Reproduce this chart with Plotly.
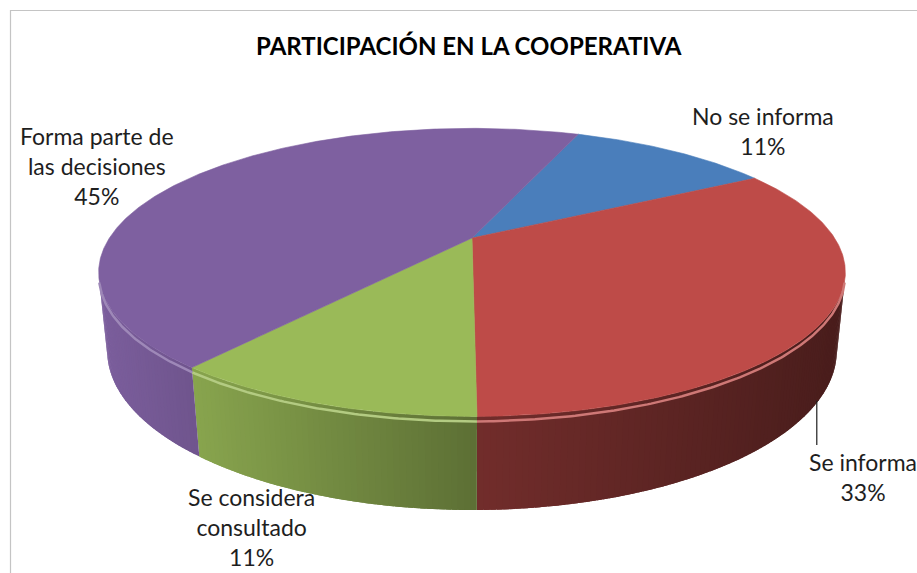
import math
import plotly.graph_objects as go

# ---- data -------------------------------------------------------------
categories = ["No se informa", "Se informa", "Se considera consultado",
              "Forma parte de las decisiones"]
label_lines = ["No se informa", "Se informa", "Se considera<br>consultado",
               "Forma parte de<br>las decisiones"]
percent = [11, 33, 11, 45]
title_text = "PARTICIPACIÓN EN LA COOPERATIVA"

# ---- style ------------------------------------------------------------
top_colors = ["#4a7ebb", "#be4b48", "#9aba58", "#7e60a0"]
FONT = "Lato, 'Open Sans', sans-serif"
W, H = 917, 573

# 3-D pie camera / geometry (radius = 1 unit)
CX, CY = 472.0, 238.0        # projected centre of the top face (px)
ELEV = math.radians(22.0)    # viewing elevation
DIST = 3.886                 # camera distance
FOCAL = 1409.0               # px per unit at the camera plane
THICK = 0.23                 # pie height
FIRST_ANGLE = 21.0           # clockwise from 12 o'clock

# label anchor points (px)
label_pos = [(763, 131), (863, 477), (251, 527), (97, 166)]

sE, cE = math.sin(ELEV), math.cos(ELEV)


def project(theta_deg, height):
    t = math.radians(theta_deg)
    x, z = math.sin(t), math.cos(t)
    X = x
    Y = height * cE + z * sE
    Z = -height * sE + z * cE
    k = FOCAL / (DIST + Z)
    return CX + X * k, CY - Y * k


def hex_rgb(h):
    h = h.lstrip("#")
    return tuple(int(h[i:i + 2], 16) for i in (0, 2, 4))


def shade(h, f):
    r, g, b = hex_rgb(h)
    return "rgb(%d,%d,%d)" % tuple(max(0, min(255, round(v * f))) for v in (r, g, b))


def tint(h, amt):
    r, g, b = hex_rgb(h)
    return "rgb(%d,%d,%d)" % tuple(round(v + (255 - v) * amt) for v in (r, g, b))


# slice angle ranges
total = sum(percent)
bounds = []
a = FIRST_ANGLE
for p in percent:
    span = 360.0 * p / total
    bounds.append((a, a + span))
    a += span

# visible part of the cylinder wall
vis = math.degrees(math.acos(-1.0 / (DIST * cE)))
vis_lo, vis_hi = vis, 360.0 - vis
half_w = FOCAL / math.sqrt(DIST ** 2 - cE ** 2)

fig = go.Figure()


def side_ranges(a0, a1):
    out = []
    for off in (0.0, 360.0):
        lo, hi = max(a0, vis_lo + off), min(a1, vis_hi + off)
        if hi > lo:
            out.append((lo, hi))
    return out


# curved walls, drawn as thin lit strips that overlap a little
STEP = 0.8
for i, (a0, a1) in enumerate(bounds):
    for lo, hi in side_ranges(a0, a1):
        n = max(1, int(math.ceil((hi - lo) / STEP)))
        d = (hi - lo) / n
        for j in range(n):
            ta = lo + d * j
            tb = min(hi, ta + d * 1.9)
            pts = [project(ta + (tb - ta) * k / 3, 0) for k in range(4)]
            pts += [project(tb - (tb - ta) * k / 3, -THICK) for k in range(4)]
            cxm = sum(p[0] for p in pts) / len(pts)
            u = (cxm - CX) / half_w
            f = 0.6 - 0.38 * u if u < 0 else 0.6 - 0.22 * u
            col = shade(top_colors[i], f)
            fig.add_trace(go.Scatter(
                x=[p[0] for p in pts] + [pts[0][0]],
                y=[p[1] for p in pts] + [pts[0][1]],
                mode="lines", fill="toself", fillcolor=col,
                line=dict(width=0), hoverinfo="skip", showlegend=False))

# top faces
for i, (a0, a1) in enumerate(bounds):
    n = max(2, int((a1 - a0) / 0.5))
    xs, ys = [CX], [CY]
    for j in range(n + 1):
        px, py = project(a0 + (a1 - a0) * j / n, 0)
        xs.append(px)
        ys.append(py)
    xs.append(CX)
    ys.append(CY)
    fig.add_trace(go.Scatter(
        x=xs, y=ys, mode="lines", fill="toself", fillcolor=top_colors[i],
        line=dict(color=top_colors[i], width=0.6),
        hoverinfo="skip", showlegend=False, name=categories[i]))

# bevel highlight along the front rim
for i, (a0, a1) in enumerate(bounds):
    for lo, hi in side_ranges(a0, a1):
        n = max(2, int((hi - lo) / 0.5))
        pts = [project(lo + (hi - lo) * j / n, -0.012) for j in range(n + 1)]
        fig.add_trace(go.Scatter(
            x=[p[0] for p in pts], y=[p[1] for p in pts], mode="lines",
            line=dict(color=tint(top_colors[i], 0.25), width=2.5),
            hoverinfo="skip", showlegend=False))

# data labels
annotations = [dict(
    x=469, y=45, xref="x", yref="y", text="<b>%s</b>" % title_text,
    showarrow=False, font=dict(family=FONT, size=24, color="#000000"),
    xanchor="center", yanchor="middle")]
for i in range(len(categories)):
    lx, ly = label_pos[i]
    annotations.append(dict(
        x=lx, y=ly, xref="x", yref="y",
        text="%s<br>%d%%" % (label_lines[i], percent[i]),
        showarrow=False, align="center",
        font=dict(family=FONT, size=23, color="#1e1e1e"),
        xanchor="center", yanchor="middle"))

# leader line for the label placed below the rim
mid_red = sum(bounds[1]) / 2
lx0, ly0 = project(mid_red, -THICK)
shapes = [
    dict(type="line", xref="x", yref="y", x0=lx0 - 3, y0=ly0 + 2,
         x1=lx0 - 3, y1=445, line=dict(color="#1e1e1e", width=1.2)),
    dict(type="rect", xref="x", yref="y", x0=10.5, y0=10.5, x1=1000, y1=700,
         line=dict(color="#c4c4c4", width=1.2), fillcolor="rgba(0,0,0,0)",
         layer="below"),
]

fig.update_layout(
    width=W, height=H,
    margin=dict(l=0, r=0, t=0, b=0),
    paper_bgcolor="white", plot_bgcolor="white",
    xaxis=dict(range=[0, W], visible=False, fixedrange=True),
    yaxis=dict(range=[H, 0], visible=False, fixedrange=True),
    annotations=annotations, shapes=shapes, showlegend=False,
)

fig.write_html("out.html")
